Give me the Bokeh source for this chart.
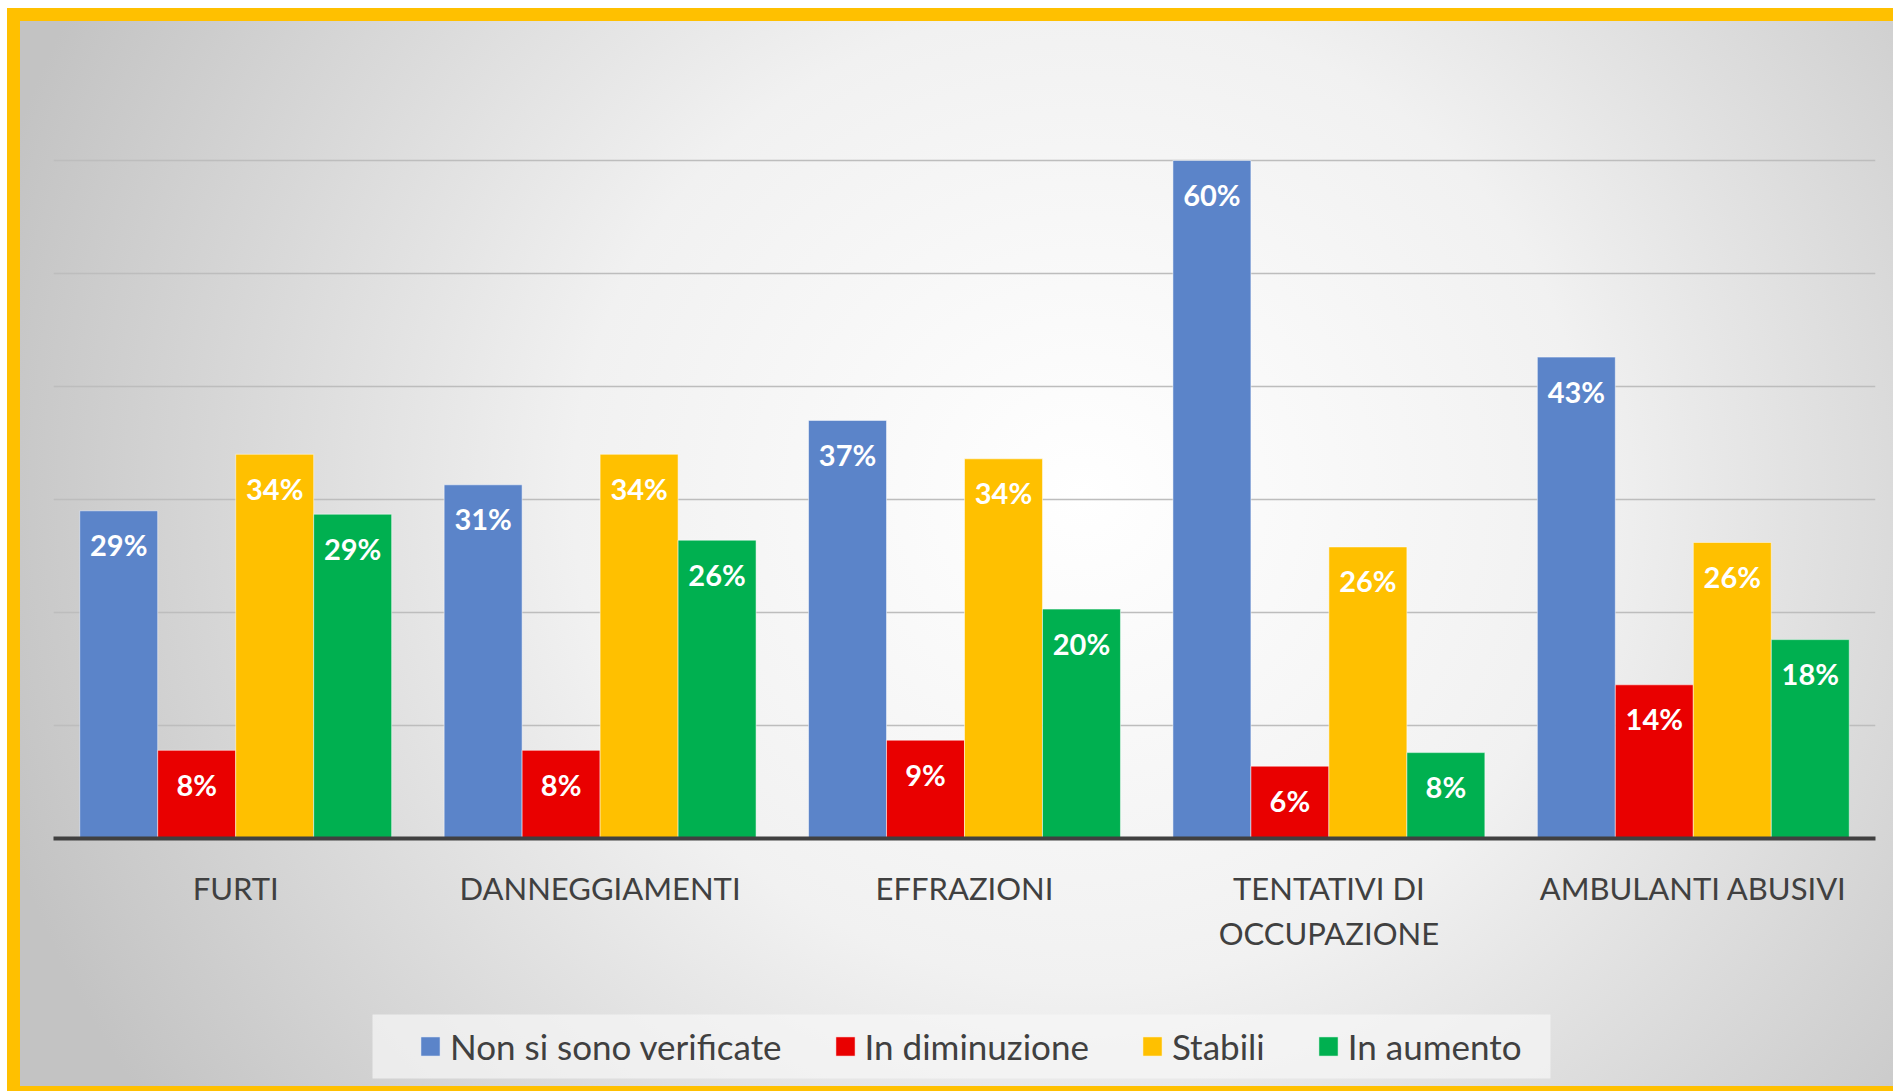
from bokeh.plotting import figure
from bokeh.layouts import column
from bokeh.models import (ColumnDataSource, FactorRange, FixedTicker, Legend, LegendItem,
                          Range1d, BoxAnnotation)
from bokeh.transform import dodge
from bokeh.core.properties import value
from bokeh.embed import file_html
from bokeh.resources import INLINE

categories = ["FURTI", "DANNEGGIAMENTI", "EFFRAZIONI", "TENTATIVI DI\nOCCUPAZIONE", "AMBULANTI ABUSIVI"]
series_names = ["Non si sono verificate", "In diminuzione", "Stabili", "In aumento"]
non_verificate = [29.0, 31.3, 37.0, 60.0, 42.6]
in_diminuzione = [7.8, 7.8, 8.7, 6.4, 13.6]
stabili = [34.0, 34.0, 33.6, 25.8, 26.2]
in_aumento = [28.7, 26.4, 20.3, 7.6, 17.6]
y_ticks = [0, 10, 20, 30, 40, 50, 60, 70]

colors = ["#5B84C9", "#E90000", "#FFC000", "#00B050"]
series = [non_verificate, in_diminuzione, stabili, in_aumento]
keys = ["s0", "s1", "s2", "s3"]

data = {"cat": categories}
for k, vals in zip(keys, series):
    data[k] = vals
    data[k + "_lbl"] = [f"{round(v)}%" for v in vals]
src = ColumnDataSource(data)

W, H_MAIN, H_LEG = 1886, 990, 93

# ---------------- main chart ----------------
p = figure(x_range=FactorRange(factors=categories, range_padding=0),
           y_range=(0, 70), width=W, height=H_MAIN,
           output_backend="svg", toolbar_location=None,
           min_border_left=46, min_border_right=18, min_border_top=39, min_border_bottom=160)
p.background_fill_alpha = 0
p.border_fill_alpha = 0
p.outline_line_color = None

bw = 0.214
offsets = [-1.5 * bw, -0.5 * bw, 0.5 * bw, 1.5 * bw]
for k, off, col in zip(keys, offsets, colors):
    p.vbar(x=dodge("cat", off, range=p.x_range), top=k, width=bw, source=src,
           fill_color=col, line_color="white", line_alpha=0.5, line_width=1)
    p.text(x=dodge("cat", off, range=p.x_range), y=k, text=k + "_lbl", source=src,
           text_align="center", text_baseline="middle", y_offset=34,
           text_color="white", text_font=value("Lato"), text_font_style="bold",
           text_font_size="29px")

p.yaxis.visible = False
p.yaxis.ticker = FixedTicker(ticks=y_ticks)
p.ygrid.ticker = FixedTicker(ticks=y_ticks)
p.ygrid.grid_line_color = "#bdbdbd"
p.ygrid.grid_line_width = 1.5
p.xgrid.grid_line_color = None

xa = p.xaxis[0]
xa.axis_line_color = "#404040"
xa.axis_line_width = 4
xa.major_tick_line_color = None
xa.minor_tick_line_color = None
xa.major_tick_out = 0
xa.major_label_standoff = 30
xa.major_label_text_font = "Lato"
xa.major_label_text_font_size = "31px"
xa.major_label_text_color = "#404040"
xa.major_label_text_font_style = "normal"

# ---------------- legend strip ----------------
pl = figure(width=W, height=H_LEG, x_range=Range1d(53, 1875), y_range=Range1d(0, H_LEG),
            output_backend="svg", toolbar_location=None,
            x_axis_location=None, y_axis_location=None,
            min_border=0, min_border_left=46, min_border_right=18,
            min_border_top=0, min_border_bottom=0)
pl.background_fill_alpha = 0
pl.border_fill_alpha = 0
pl.outline_line_color = None
pl.grid.grid_line_color = None

pl.add_layout(BoxAnnotation(left=372, right=1550, bottom=13, top=77,
                            fill_color="#f7f7f7", fill_alpha=0.7, line_color=None))

# hidden renderers (same data) used only to draw the legend swatches
leg_renderers = []
for k, col in zip(keys, colors):
    r = pl.vbar(x=k, top=k, width=1, source=src, fill_color=col, line_color="white",
                line_alpha=0.5, line_width=1, visible=False)
    leg_renderers.append(r)

lg = Legend(items=[LegendItem(label=n, renderers=[r]) for n, r in zip(series_names, leg_renderers)],
            orientation="horizontal", location=(365, 24))
lg.label_text_font = "Lato"
lg.label_text_font_size = "35px"
lg.label_text_color = "#404040"
lg.glyph_width = 24
lg.glyph_height = 24
lg.label_standoff = 8
lg.spacing = 51
lg.padding = 12
lg.margin = 0
lg.click_policy = "none"
lg.background_fill_alpha = 0
lg.border_line_color = None
pl.add_layout(lg, "center")

layout = column(p, pl, spacing=0)
layout.styles = {
    "margin-left": "7px",
    "margin-top": "8px",
    "background": "radial-gradient(ellipse 60% 100% at 57% 45%, #ffffff 0%, #f1f1f1 45%, #c3c3c3 100%)",
    "box-shadow": "inset 13px 13px 0 0 #FFC000, inset 0 -5px 0 0 #FFC000",
}

open("out.html", "w").write(file_html(layout, INLINE))
